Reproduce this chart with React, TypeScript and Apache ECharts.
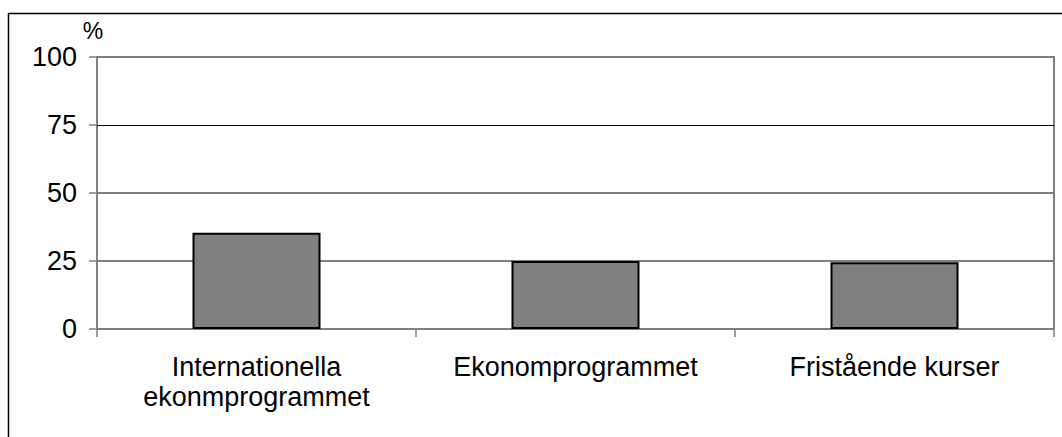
import React, { useEffect, useRef } from "react";
import * as echarts from "echarts";

const categories = ["Internationella\nekonmprogrammet", "Ekonomprogrammet", "Fristående kurser"];
const values = [35.4, 25.0, 24.5];
const yTicks = { min: 0, max: 100, interval: 25 };
const unitLabel = "%";
const blackGridValue = 75;

export default function App() {
  const ref = useRef<HTMLDivElement>(null);
  useEffect(() => {
    if (!ref.current) return;
    const chart = echarts.init(ref.current, null, { renderer: "svg" });
    const font = "'Liberation Sans', Arial, sans-serif";
    chart.setOption({
      animation: false,
      backgroundColor: "#fff",
      grid: {
        left: 97,
        right: 8,
        top: 57,
        bottom: 108,
        show: true,
        borderColor: "#808080",
        borderWidth: 2,
        backgroundColor: "transparent",
      },
      graphic: [
        {
          type: "rect",
          shape: { x: 8.5, y: 13.5, width: 1200, height: 600 },
          style: { fill: "none", stroke: "#000", lineWidth: 1.5 },
          silent: true,
          z: 0,
        },
        {
          type: "text",
          x: 93,
          y: 31,
          style: {
            text: unitLabel,
            fontSize: 23,
            fontFamily: font,
            fill: "#000",
            align: "center",
            verticalAlign: "middle",
          },
        },
      ],
      xAxis: {
        type: "category",
        data: categories,
        axisLine: { show: true, lineStyle: { color: "#808080", width: 2 } },
        axisTick: { show: true, alignWithLabel: false, length: 8, lineStyle: { color: "#808080", width: 1.5 } },
        axisLabel: {
          color: "#000",
          fontFamily: font,
          fontSize: 27,
          lineHeight: 30,
          margin: 23,
          interval: 0,
        },
        splitLine: { show: false },
      },
      yAxis: {
        type: "value",
        min: yTicks.min,
        max: yTicks.max,
        interval: yTicks.interval,
        axisLine: { show: true, lineStyle: { color: "#808080", width: 2 } },
        axisTick: { show: true, length: 8, lineStyle: { color: "#808080", width: 1.5 } },
        axisLabel: { color: "#000", fontFamily: font, fontSize: 27, margin: 20 },
        splitLine: {
          show: true,
          lineStyle: {
            color: ["#808080", "#808080", "#808080", "transparent", "#808080"],
            width: 2,
          },
        },
      },
      series: [
        {
          type: "bar",
          data: values,
          barWidth: 128,
          itemStyle: { color: "#808080", borderColor: "#000", borderWidth: 2 },
          markLine: {
            silent: true,
            symbol: "none",
            label: { show: false },
            lineStyle: { color: "#000", width: 1, type: "solid" },
            data: [{ yAxis: blackGridValue }],
          },
        },
      ],
    });
    return () => chart.dispose();
  }, []);
  return (
    <div
      ref={ref}
      style={{ position: "fixed", left: 0, top: 0, width: 1062, height: 437 }}
    />
  );
}
